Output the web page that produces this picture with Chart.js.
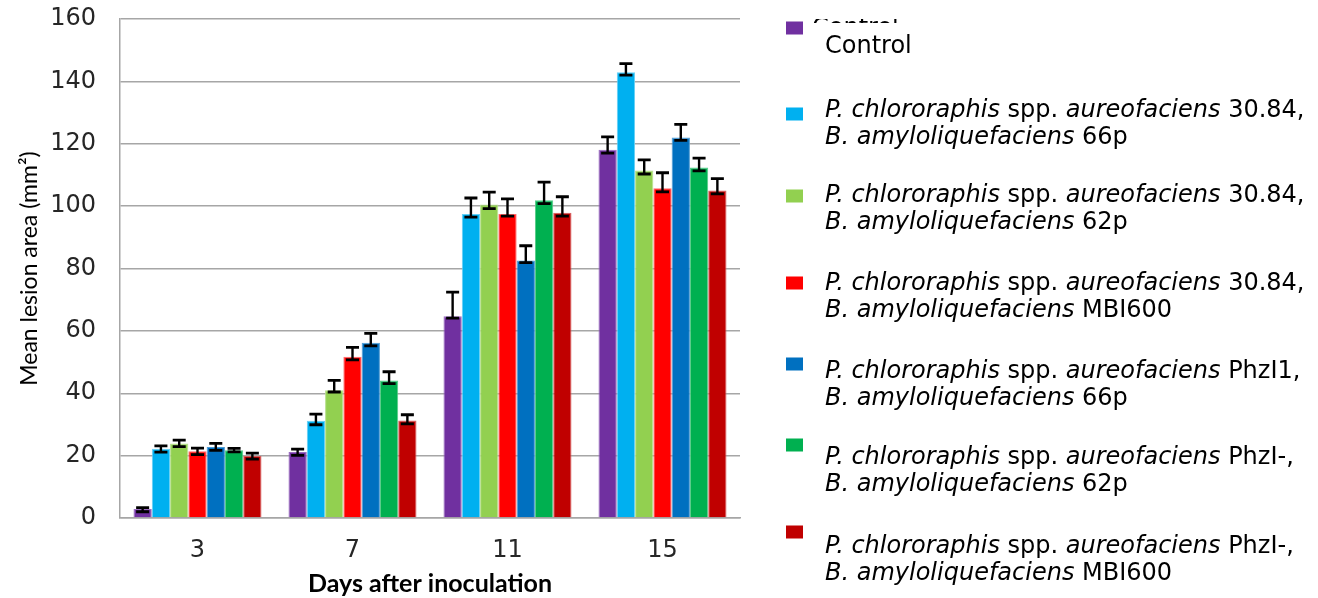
<!DOCTYPE html>
<html>
<head>
<meta charset="utf-8">
<title>Mean lesion area</title>
<script src="https://cdn.jsdelivr.net/npm/chart.js@4.4.1/dist/chart.umd.min.js"></script>
<style>
  html, body { margin: 0; padding: 0; background: #ffffff; }
  #wrap { width: 1318px; height: 598px; position: relative; }
  canvas { display: block; }
</style>
</head>
<body>
<div id="wrap"><canvas id="chart" width="1318" height="598"></canvas></div>
<script>
// Sampling days (x categories)
const days = ['3', '7', '11', '15'];

// Y-axis ticks
const yMin = 0;
const yMax = 160;
const yStep = 20;

// Mean lesion area (mm²) per treatment, one value per day
const control       = [2.9, 21.2, 64.7, 118.1];
const pc3084_66p    = [22.2, 31.2, 97.5, 142.9];
const pc3084_62p    = [23.9, 41.0, 100.5, 111.4];
const pc3084_mbi600 = [21.4, 51.7, 97.5, 105.7];
const phzI1_66p     = [22.8, 56.2, 82.6, 122.0];
const phzI_62p      = [21.7, 44.1, 101.9, 112.4];
const phzI_mbi600   = [19.9, 31.3, 97.9, 105.0];

// Error bar extents above and below each mean
const controlErrUp       = [0.4, 0.9, 7.7, 4.1];
const controlErrDown     = [0.9, 1.1, 0.6, 1.1];
const pc3084_66pErrUp    = [0.9, 2.1, 5.1, 2.8];
const pc3084_66pErrDown  = [1.1, 1.3, 1.0, 0.9];
const pc3084_62pErrUp    = [1.1, 3.1, 4.0, 3.4];
const pc3084_62pErrDown  = [1.0, 0.6, 1.3, 1.1];
const pc3084_mbiErrUp    = [1.0, 3.0, 4.8, 5.0];
const pc3084_mbiErrDown  = [1.1, 1.0, 0.7, 1.1];
const phzI1_66pErrUp     = [1.1, 3.0, 4.7, 4.2];
const phzI1_66pErrDown   = [1.1, 1.0, 0.7, 0.9];
const phzI_62pErrUp      = [0.6, 2.8, 5.8, 3.0];
const phzI_62pErrDown    = [0.5, 1.0, 1.1, 1.1];
const phzI_mbiErrUp      = [0.9, 1.8, 5.1, 3.8];
const phzI_mbiErrDown    = [1.0, 1.1, 1.1, 1.1];

// Treatment names; each line is a list of [text, italic] runs
const treatmentLabels = [
  [[['Control', false]]],
  [[['P. chlororaphis', true], [' spp. ', false], ['aureofaciens', true], [' 30.84,', false]],
   [['B. amyloliquefaciens', true], [' 66p', false]]],
  [[['P. chlororaphis', true], [' spp. ', false], ['aureofaciens', true], [' 30.84,', false]],
   [['B. amyloliquefaciens', true], [' 62p', false]]],
  [[['P. chlororaphis', true], [' spp. ', false], ['aureofaciens', true], [' 30.84,', false]],
   [['B. amyloliquefaciens', true], [' MBI600', false]]],
  [[['P. chlororaphis', true], [' spp. ', false], ['aureofaciens', true], [' PhzI1,', false]],
   [['B. amyloliquefaciens', true], [' 66p', false]]],
  [[['P. chlororaphis', true], [' spp. ', false], ['aureofaciens', true], [' PhzI-,', false]],
   [['B. amyloliquefaciens', true], [' 62p', false]]],
  [[['P. chlororaphis', true], [' spp. ', false], ['aureofaciens', true], [' PhzI-,', false]],
   [['B. amyloliquefaciens', true], [' MBI600', false]]]
];
const treatmentNames = treatmentLabels.map(l => l.map(line => line.map(r => r[0]).join('')).join(' '));

const colors = ['#7030A0', '#00B0F0', '#92D050', '#FF0000', '#0070C0', '#00B050', '#C00000'];
const edgeColors = ['#9a6cc0', '#66d0f6', '#b6e08a', '#ff6a6a', '#4d9ad3', '#55cc88', '#d65c5c'];

const seriesValues = [control, pc3084_66p, pc3084_62p, pc3084_mbi600, phzI1_66p, phzI_62p, phzI_mbi600];
const seriesErrUp = [controlErrUp, pc3084_66pErrUp, pc3084_62pErrUp, pc3084_mbiErrUp, phzI1_66pErrUp, phzI_62pErrUp, phzI_mbiErrUp];
const seriesErrDown = [controlErrDown, pc3084_66pErrDown, pc3084_62pErrDown, pc3084_mbiErrDown, phzI1_66pErrDown, phzI_62pErrDown, phzI_mbiErrDown];

const tickFont = "'DejaVu Sans', Verdana, sans-serif";
const titleFont = "Lato, Carlito, Calibri, sans-serif";

// Plot frame within the canvas
const plotLeft = 120, plotRight = 740, plotTop = 19, plotBottom = 518;

// Error bars: vertical whisker plus caps, read through the y scale
const errorBars = {
  id: 'errorBars',
  afterDatasetsDraw(chart) {
    const ctx = chart.ctx;
    const y = chart.scales.y;
    ctx.save();
    ctx.strokeStyle = '#000000';
    chart.data.datasets.forEach((ds, di) => {
      const meta = chart.getDatasetMeta(di);
      meta.data.forEach((bar, i) => {
        const v = ds.data[i];
        const yHi = y.getPixelForValue(v + ds.errUp[i]);
        const yLo = y.getPixelForValue(v - ds.errDown[i]);
        const cap = 6.5;
        ctx.lineWidth = 2.4;
        ctx.beginPath();
        ctx.moveTo(bar.x, yHi);
        ctx.lineTo(bar.x, yLo);
        ctx.stroke();
        ctx.lineWidth = 2.8;
        ctx.beginPath();
        ctx.moveTo(bar.x - cap, yHi);
        ctx.lineTo(bar.x + cap, yHi);
        ctx.moveTo(bar.x - cap, yLo);
        ctx.lineTo(bar.x + cap, yLo);
        ctx.stroke();
      });
    });
    ctx.restore();
  }
};

// Legend drawn at the right of the plot, with mixed italic / upright runs
const legendLayout = {
  keyX: 786, keyW: 17, keyH: 13, textX: 825, lineGap: 27,
  keyY:   [28, 114, 196, 283, 364, 445, 532],
  firstY: [47, 111, 196, 284, 372, 458, 547]
};
const sideLegend = {
  id: 'sideLegend',
  afterDraw(chart) {
    const ctx = chart.ctx;
    const L = legendLayout;
    ctx.save();
    ctx.textBaseline = 'middle';
    ctx.fillStyle = '#000000';
    // clipped line of text above the first entry
    ctx.save();
    ctx.beginPath();
    ctx.rect(800, 19, 120, 4);
    ctx.clip();
    ctx.font = "24px " + tickFont;
    ctx.textBaseline = 'alphabetic';
    ctx.fillText(treatmentLabels[0][0][0][0], 812, 35);
    ctx.restore();

    treatmentLabels.forEach((lines, k) => {
      ctx.fillStyle = colors[k];
      ctx.fillRect(L.keyX, L.keyY[k] - L.keyH / 2, L.keyW, L.keyH);
      ctx.fillStyle = '#000000';
      lines.forEach((runs, li) => {
        let x = L.textX;
        const yy = L.firstY[k] + li * L.lineGap;
        runs.forEach(([text, italic]) => {
          ctx.font = (italic ? 'italic ' : '') + '24px ' + tickFont;
          ctx.fillText(text, x, yy);
          x += ctx.measureText(text).width;
        });
      });
    });
    ctx.restore();
  }
};

const datasets = seriesValues.map((vals, k) => ({
  label: treatmentNames[k],
  data: vals,
  errUp: seriesErrUp[k],
  errDown: seriesErrDown[k],
  backgroundColor: colors[k],
  borderColor: edgeColors[k],
  borderWidth: 1,
  borderSkipped: 'bottom',
  barPercentage: 1.0,
  categoryPercentage: 0.826
}));

new Chart(document.getElementById('chart'), {
  type: 'bar',
  data: { labels: days, datasets },
  options: {
    responsive: false,
    devicePixelRatio: 1,
    animation: false,
    layout: { padding: { top: plotTop, right: 1318 - plotRight, left: 0, bottom: 0 } },
    plugins: {
      legend: { display: false },
      tooltip: { enabled: false }
    },
    scales: {
      x: {
        grid: { display: false, drawTicks: false },
        border: { display: true, color: '#a6a6a6', width: 1.5 },
        ticks: {
          color: '#262626',
          font: { family: tickFont, size: 24 },
          padding: 18
        },
        title: {
          display: true,
          text: 'Days after inoculation',
          color: '#000000',
          font: { family: titleFont, size: 25, weight: 'bold' },
          padding: { top: 0, bottom: -1 }
        },
        afterFit(scale) {
          scale.height = 598 - plotBottom;
          scale.paddingLeft = 0;
          scale.paddingRight = 0;
        }
      },
      y: {
        min: yMin,
        max: yMax,
        grid: { color: '#a6a6a6', lineWidth: 1.5, drawTicks: false },
        border: { display: true, color: '#a6a6a6', width: 1.5 },
        ticks: {
          stepSize: yStep,
          color: '#262626',
          font: { family: tickFont, size: 24 },
          padding: 24
        },
        title: {
          display: true,
          text: 'Mean lesion area (mm²)',
          color: '#000000',
          font: { family: titleFont, size: 23, weight: 'normal' },
          padding: { top: 16, bottom: 0 }
        },
        afterFit(scale) {
          scale.width = plotLeft;
          scale.paddingTop = 0;
          scale.paddingBottom = 0;
        }
      }
    }
  },
  plugins: [errorBars, sideLegend]
});
</script>
</body>
</html>
